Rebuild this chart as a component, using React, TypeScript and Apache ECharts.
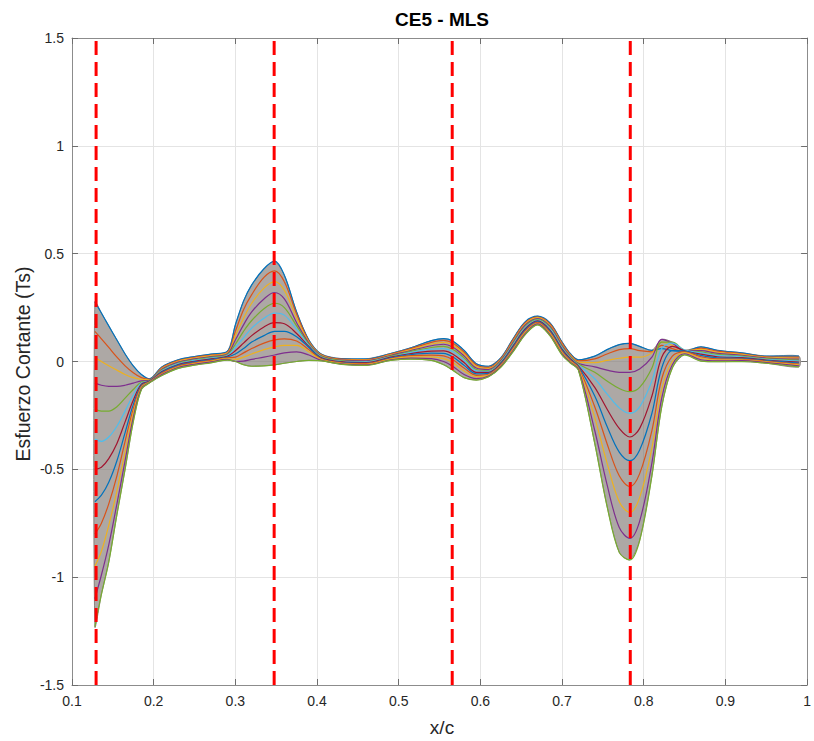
import { useEffect, useRef } from "react";
import * as echarts from "echarts";

// Shear stress distributions along the chord (x/c), one line per case.
// Each curve is split into chord segments; the segments share x positions.

const X_LEFT = [0.128, 0.136, 0.145, 0.155, 0.165, 0.175, 0.185, 0.195];
const LEFT = [
  [0.277, 0.225, 0.165, 0.1, 0.035, -0.02, -0.06, -0.08],
  [0.14, 0.105, 0.065, 0.02, -0.02, -0.052, -0.075, -0.083],
  [0.02, 0.0, -0.02, -0.04, -0.06, -0.075, -0.083, -0.085],
  [-0.1, -0.11, -0.115, -0.115, -0.11, -0.1, -0.09, -0.087],
  [-0.22, -0.23, -0.23, -0.21, -0.17, -0.13, -0.095, -0.089],
  [-0.36, -0.37, -0.35, -0.3, -0.23, -0.155, -0.1, -0.09],
  [-0.5, -0.49, -0.45, -0.38, -0.28, -0.18, -0.105, -0.091],
  [-0.65, -0.62, -0.56, -0.46, -0.33, -0.2, -0.11, -0.092],
  [-0.8, -0.75, -0.66, -0.53, -0.37, -0.22, -0.115, -0.094],
  [-0.95, -0.88, -0.76, -0.6, -0.42, -0.24, -0.12, -0.095],
  [-1.1, -0.99, -0.85, -0.66, -0.46, -0.26, -0.125, -0.097],
  [-1.23, -1.08, -0.93, -0.71, -0.5, -0.28, -0.13, -0.099],
];

const X_NECK = [0.21, 0.23, 0.25, 0.27, 0.29];
const NECK = [
  [-0.025, 0.008, 0.023, 0.034, 0.046],
  [-0.029, 0.004, 0.019, 0.03, 0.042],
  [-0.032, 0.001, 0.016, 0.027, 0.039],
  [-0.036, -0.003, 0.012, 0.023, 0.035],
  [-0.04, -0.007, 0.008, 0.019, 0.031],
  [-0.043, -0.01, 0.005, 0.016, 0.028],
  [-0.047, -0.014, 0.001, 0.012, 0.024],
  [-0.05, -0.017, -0.002, 0.009, 0.021],
  [-0.054, -0.021, -0.006, 0.005, 0.017],
  [-0.058, -0.025, -0.01, 0.001, 0.013],
  [-0.061, -0.028, -0.013, -0.002, 0.01],
  [-0.065, -0.032, -0.017, -0.006, 0.006],
];

const X_PEAK = [0.3, 0.31, 0.32, 0.335, 0.348, 0.36, 0.375, 0.39, 0.405];
const PEAK = [
  [0.17, 0.28, 0.355, 0.43, 0.465, 0.4, 0.23, 0.1, 0.035],
  [0.14, 0.24, 0.31, 0.39, 0.42, 0.37, 0.22, 0.095, 0.032],
  [0.12, 0.2, 0.27, 0.34, 0.37, 0.33, 0.2, 0.09, 0.03],
  [0.1, 0.17, 0.23, 0.29, 0.32, 0.29, 0.18, 0.085, 0.027],
  [0.08, 0.14, 0.19, 0.245, 0.27, 0.25, 0.165, 0.08, 0.024],
  [0.065, 0.11, 0.155, 0.2, 0.225, 0.215, 0.15, 0.075, 0.021],
  [0.05, 0.085, 0.12, 0.16, 0.18, 0.175, 0.13, 0.07, 0.018],
  [0.035, 0.06, 0.09, 0.12, 0.14, 0.14, 0.115, 0.065, 0.015],
  [0.02, 0.04, 0.06, 0.085, 0.1, 0.105, 0.095, 0.055, 0.012],
  [0.01, 0.02, 0.035, 0.055, 0.068, 0.075, 0.075, 0.045, 0.009],
  [0.0, 0.002, 0.01, 0.02, 0.03, 0.04, 0.045, 0.03, 0.006],
  [0.0, -0.015, -0.022, -0.02, -0.016, -0.008, 0.0, 0.005, 0.003],
];

const X_BUMP = [0.43, 0.46, 0.49, 0.515, 0.54, 0.555, 0.566, 0.58, 0.595, 0.61];
const BUMP = [
  [0.013, 0.012, 0.037, 0.064, 0.097, 0.106, 0.095, 0.052, -0.01, -0.022],
  [0.011, 0.009, 0.034, 0.06, 0.089, 0.098, 0.086, 0.043, -0.016, -0.027],
  [0.008, 0.006, 0.031, 0.055, 0.081, 0.089, 0.077, 0.035, -0.023, -0.032],
  [0.006, 0.003, 0.028, 0.051, 0.073, 0.08, 0.067, 0.026, -0.03, -0.037],
  [0.004, 0.0, 0.025, 0.047, 0.065, 0.07, 0.057, 0.017, -0.037, -0.042],
  [0.001, -0.002, 0.022, 0.042, 0.057, 0.06, 0.046, 0.006, -0.043, -0.046],
  [-0.001, -0.005, 0.02, 0.037, 0.048, 0.049, 0.035, -0.005, -0.05, -0.05],
  [-0.004, -0.008, 0.017, 0.032, 0.039, 0.038, 0.022, -0.017, -0.057, -0.055],
  [-0.006, -0.01, 0.014, 0.027, 0.03, 0.026, 0.009, -0.03, -0.064, -0.059],
  [-0.008, -0.013, 0.011, 0.021, 0.021, 0.013, -0.005, -0.044, -0.071, -0.063],
  [-0.011, -0.016, 0.008, 0.016, 0.013, 0.0, -0.022, -0.06, -0.079, -0.067],
  [-0.013, -0.018, 0.005, 0.011, 0.005, -0.015, -0.04, -0.075, -0.086, -0.071],
];

const X_MID = [0.625, 0.64, 0.655, 0.67, 0.685, 0.7, 0.71];
const MID = [
  [0.017, 0.105, 0.185, 0.21, 0.18, 0.09, 0.037],
  [0.013, 0.1, 0.18, 0.206, 0.175, 0.085, 0.033],
  [0.009, 0.094, 0.174, 0.203, 0.169, 0.079, 0.029],
  [0.005, 0.089, 0.169, 0.199, 0.164, 0.074, 0.025],
  [0.001, 0.083, 0.163, 0.195, 0.158, 0.068, 0.021],
  [-0.003, 0.078, 0.158, 0.192, 0.153, 0.063, 0.017],
  [-0.007, 0.072, 0.152, 0.188, 0.147, 0.057, 0.013],
  [-0.011, 0.067, 0.147, 0.185, 0.142, 0.052, 0.009],
  [-0.015, 0.061, 0.141, 0.181, 0.136, 0.046, 0.005],
  [-0.019, 0.056, 0.136, 0.177, 0.131, 0.041, 0.001],
  [-0.023, 0.05, 0.13, 0.174, 0.125, 0.035, -0.003],
  [-0.027, 0.045, 0.125, 0.17, 0.12, 0.03, -0.007],
];

const X_TAIL = [0.72, 0.74, 0.755, 0.77, 0.783, 0.795, 0.81, 0.822, 0.835, 0.85, 0.87, 0.89, 0.92, 0.95, 0.99];
const TAIL = [
  [0.008, 0.025, 0.055, 0.078, 0.084, 0.07, 0.052, 0.06, 0.05, 0.047, 0.068, 0.052, 0.04, 0.025, 0.025],
  [0.003, 0.012, 0.035, 0.055, 0.06, 0.05, 0.045, 0.075, 0.06, 0.046, 0.062, 0.048, 0.036, 0.022, 0.02],
  [-0.003, -0.005, 0.005, 0.015, 0.02, 0.02, 0.04, 0.09, 0.075, 0.049, 0.056, 0.043, 0.033, 0.019, 0.015],
  [-0.008, -0.025, -0.04, -0.05, -0.05, -0.035, 0.02, 0.103, 0.085, 0.05, 0.05, 0.038, 0.029, 0.016, 0.011],
  [-0.012, -0.05, -0.09, -0.125, -0.14, -0.12, -0.03, 0.09, 0.09, 0.052, 0.045, 0.033, 0.025, 0.013, 0.006],
  [-0.016, -0.08, -0.15, -0.215, -0.24, -0.21, -0.09, 0.06, 0.085, 0.053, 0.04, 0.028, 0.022, 0.01, 0.002],
  [-0.02, -0.12, -0.22, -0.31, -0.35, -0.31, -0.16, 0.02, 0.07, 0.05, 0.034, 0.022, 0.018, 0.007, -0.003],
  [-0.024, -0.16, -0.3, -0.42, -0.46, -0.41, -0.24, -0.03, 0.05, 0.048, 0.028, 0.017, 0.015, 0.004, -0.007],
  [-0.028, -0.21, -0.38, -0.53, -0.58, -0.52, -0.32, -0.08, 0.025, 0.045, 0.022, 0.012, 0.011, 0.001, -0.012],
  [-0.032, -0.26, -0.47, -0.65, -0.7, -0.63, -0.4, -0.13, 0.0, 0.041, 0.015, 0.007, 0.007, -0.002, -0.016],
  [-0.036, -0.32, -0.57, -0.77, -0.82, -0.74, -0.47, -0.17, -0.015, 0.036, 0.008, 0.003, 0.004, -0.005, -0.02],
  [-0.04, -0.38, -0.67, -0.885, -0.92, -0.83, -0.53, -0.21, -0.03, 0.031, 0.002, -0.001, 0.0, -0.008, -0.025],
];

// Reference chord stations marked with dashed lines
const STATIONS = [0.1295, 0.3475, 0.5655, 0.7835];

const X_TICK_LABELS = ["0.1", "0.2", "0.3", "0.4", "0.5", "0.6", "0.7", "0.8", "0.9", "1"];
const Y_TICK_LABELS = ["-1.5", "-1", "-0.5", "0", "0.5", "1", "1.5"];

const LINE_COLORS = ["#0072BD", "#D95319", "#EDB120", "#7E2F8E", "#77AC30", "#4DBEEE", "#A2142F"];
const FONT = "'Liberation Sans', Arial, Helvetica, sans-serif";

const X_ALL = [...X_LEFT, ...X_NECK, ...X_PEAK, ...X_BUMP, ...X_MID, ...X_TAIL];
const CURVES = LEFT.map((_, k) => [
  ...LEFT[k],
  ...NECK[k],
  ...PEAK[k],
  ...BUMP[k],
  ...MID[k],
  ...TAIL[k],
]);
const UPPER = X_ALL.map((_, i) => Math.max(...CURVES.map((c) => c[i])));
const LOWER = X_ALL.map((_, i) => Math.min(...CURVES.map((c) => c[i])));

export default function App() {
  const ref = useRef<HTMLDivElement>(null);

  useEffect(() => {
    if (!ref.current) return;
    const chart = echarts.init(ref.current, null, { renderer: "svg" });

    const axisLineStyle = { color: "#8c8c8c", width: 1 };
    const tickStyle = { color: "#6e6e6e", width: 1 };

    const lineSeries = CURVES.map((ys, k) => ({
      type: "line",
      name: "caso " + (k + 1),
      data: X_ALL.map((x, i) => [x, ys[i]]),
      symbol: "none",
      showSymbol: false,
      smooth: 0.35,
      lineStyle: { width: 1.2, color: LINE_COLORS[k % LINE_COLORS.length] },
      z: 3,
      silent: true,
    }));

    const stationSeries = STATIONS.map((s) => ({
      type: "line",
      data: [
        [s, -1.5],
        [s, 1.5],
      ],
      symbol: "none",
      showSymbol: false,
      lineStyle: { width: 3, color: "#ff0000", type: [14, 7] },
      z: 6,
      silent: true,
    }));

    // Grey envelope covering the spread of all cases
    const bandSeries = {
      type: "custom",
      data: [[0.5, 0]],
      z: 2,
      silent: true,
      renderItem: (_params: any, api: any) => {
        const up = X_ALL.map((x, i) => api.coord([x, UPPER[i]]));
        const lo = X_ALL.map((x, i) => api.coord([x, LOWER[i]])).reverse();
        return {
          type: "polygon",
          shape: { points: up.concat(lo), smooth: 0.25 },
          style: { fill: "rgba(122,114,110,0.62)", stroke: "rgba(122,114,110,0.8)", lineWidth: 1 },
        };
      },
    };

    chart.setOption({
      animation: false,
      backgroundColor: "#ffffff",
      grid: { left: 72, top: 38, width: 740, height: 647, containLabel: false },
      xAxis: [
        {
          type: "value",
          min: 0.1,
          max: 1,
          interval: 0.1,
          position: "bottom",
          axisLine: { show: true, onZero: false, lineStyle: axisLineStyle },
          axisTick: { show: true, inside: true, length: 6, lineStyle: tickStyle },
          axisLabel: {
            color: "#262626",
            fontSize: 14,
            fontFamily: FONT,
            margin: 9,
            formatter: (_v: number, i: number) => X_TICK_LABELS[i],
          },
          splitLine: { show: true, lineStyle: { color: "#e4e4e4", width: 1 } },
        },
        {
          type: "value",
          min: 0.1,
          max: 1,
          interval: 0.1,
          position: "top",
          axisLine: { show: true, onZero: false, lineStyle: axisLineStyle },
          axisTick: { show: true, inside: true, length: 6, lineStyle: tickStyle },
          axisLabel: { show: false },
          splitLine: { show: false },
        },
      ],
      yAxis: [
        {
          type: "value",
          min: -1.5,
          max: 1.5,
          interval: 0.5,
          position: "left",
          axisLine: { show: true, onZero: false, lineStyle: axisLineStyle },
          axisTick: { show: true, inside: true, length: 6, lineStyle: tickStyle },
          axisLabel: {
            color: "#262626",
            fontSize: 14,
            fontFamily: FONT,
            margin: 8,
            formatter: (_v: number, i: number) => Y_TICK_LABELS[i],
          },
          splitLine: { show: true, lineStyle: { color: "#e4e4e4", width: 1 } },
        },
        {
          type: "value",
          min: -1.5,
          max: 1.5,
          interval: 0.5,
          position: "right",
          axisLine: { show: true, onZero: false, lineStyle: axisLineStyle },
          axisTick: { show: true, inside: true, length: 6, lineStyle: tickStyle },
          axisLabel: { show: false },
          splitLine: { show: false },
        },
      ],
      graphic: [
        {
          type: "text",
          x: 442,
          y: 19,
          style: {
            text: "CE5 - MLS",
            font: `bold 19px ${FONT}`,
            fill: "#000000",
            textAlign: "center",
            textVerticalAlign: "middle",
          },
        },
        {
          type: "text",
          x: 442,
          y: 727,
          style: {
            text: "x/c",
            font: `19px ${FONT}`,
            fill: "#262626",
            textAlign: "center",
            textVerticalAlign: "middle",
          },
        },
        {
          type: "text",
          x: 23,
          y: 364,
          rotation: Math.PI / 2,
          style: {
            text: "Esfuerzo Cortante (Ts)",
            font: `19.5px ${FONT}`,
            fill: "#262626",
            textAlign: "center",
            textVerticalAlign: "middle",
          },
        },
      ],
      series: [bandSeries, ...lineSeries, ...stationSeries],
    });

    return () => chart.dispose();
  }, []);

  return (
    <div
      ref={ref}
      style={{ position: "absolute", left: 0, top: 0, width: 814, height: 741, background: "#fff" }}
    />
  );
}
